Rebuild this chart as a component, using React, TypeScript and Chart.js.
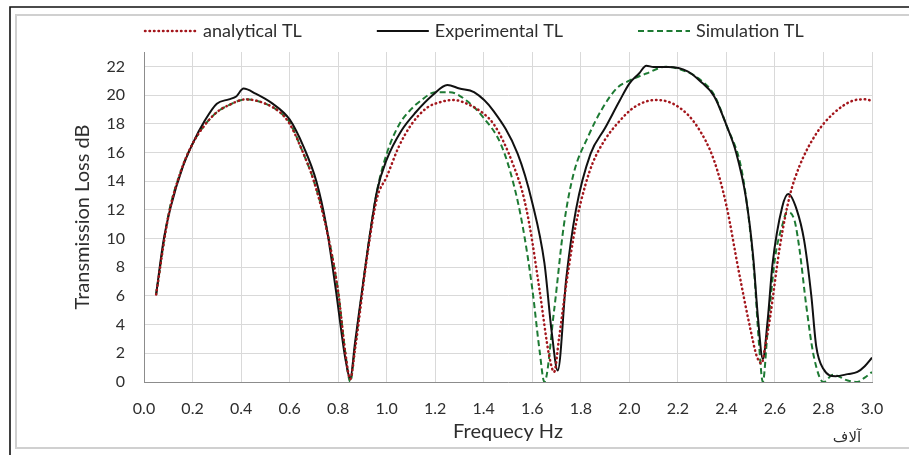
import React, { useEffect, useRef } from 'react';
import { Chart, registerables } from 'chart.js';

Chart.register(...registerables);

// ---- data (frequency in thousands of Hz, TL in dB) ----
const analyticalFreq = [0.05, 0.1, 0.15, 0.2, 0.25, 0.3, 0.35, 0.42, 0.5, 0.56, 0.6, 0.65, 0.7, 0.75, 0.8, 0.83, 0.85, 0.87, 0.92, 0.96, 1.0, 1.05, 1.1, 1.165, 1.22, 1.275, 1.33, 1.4, 1.44, 1.48, 1.52, 1.56, 1.59, 1.63, 1.67, 1.69, 1.71, 1.74, 1.78, 1.82, 1.85, 1.9, 1.95, 2.02, 2.11, 2.2, 2.28, 2.35, 2.4, 2.45, 2.5, 2.525, 2.545, 2.56, 2.58, 2.62, 2.66, 2.7, 2.77, 2.84, 2.92, 2.97, 3.0];
const analyticalTL = [6.1, 11.5, 14.6, 16.6, 17.9, 18.8, 19.3, 19.7, 19.4, 18.8, 18.0, 16.2, 14.0, 10.8, 6.3, 2.0, 0.2, 2.3, 8.8, 12.8, 14.3, 16.4, 17.9, 19.1, 19.5, 19.66, 19.4, 18.7, 18.0, 16.8, 15.2, 13.2, 10.8, 6.4, 1.8, 0.7, 3.0, 6.8, 11.0, 13.8, 15.3, 16.9, 18.0, 19.15, 19.66, 19.2, 17.8, 15.4, 12.3, 7.8, 3.6, 1.8, 1.3, 2.5, 4.5, 9.4, 12.9, 15.0, 17.3, 18.7, 19.6, 19.7, 19.6];

const experimentalFreq = [0.05, 0.08, 0.11, 0.16, 0.2, 0.25, 0.3, 0.35, 0.38, 0.41, 0.46, 0.53, 0.6, 0.66, 0.71, 0.75, 0.79, 0.83, 0.85, 0.87, 0.92, 0.96, 1.0, 1.06, 1.12, 1.19, 1.25, 1.3, 1.36, 1.44, 1.54, 1.6, 1.65, 1.68, 1.705, 1.74, 1.78, 1.84, 1.9, 1.96, 2.0, 2.04, 2.07, 2.1, 2.16, 2.24, 2.29, 2.35, 2.4, 2.44, 2.48, 2.51, 2.53, 2.55, 2.57, 2.59, 2.63, 2.655, 2.69, 2.72, 2.75, 2.77, 2.8, 2.85, 2.9, 2.94, 2.97, 3.0];
const experimentalTL = [6.1, 9.8, 12.2, 15.0, 16.6, 18.2, 19.4, 19.7, 19.9, 20.45, 20.1, 19.4, 18.3, 16.3, 14.0, 11.0, 6.5, 1.6, 0.3, 2.8, 9.0, 13.3, 15.5, 17.5, 18.8, 20.0, 20.7, 20.45, 20.2, 18.9, 15.9, 12.5, 8.3, 3.5, 0.8, 7.2, 12.0, 15.9, 17.7, 19.6, 20.8, 21.5, 22.05, 21.95, 21.95, 21.65, 21.0, 19.9, 17.9, 16.0, 12.9, 8.8, 4.5, 1.6, 4.3, 8.2, 12.2, 13.1, 12.0, 9.9, 6.0, 2.5, 0.9, 0.4, 0.55, 0.7, 1.1, 1.7];

const simulationFreq = [0.05, 0.1, 0.15, 0.2, 0.25, 0.3, 0.35, 0.42, 0.5, 0.56, 0.6, 0.65, 0.7, 0.75, 0.8, 0.83, 0.85, 0.87, 0.92, 0.96, 1.0, 1.05, 1.1, 1.14, 1.2, 1.26, 1.33, 1.4, 1.47, 1.52, 1.56, 1.6, 1.63, 1.65, 1.69, 1.73, 1.77, 1.83, 1.89, 1.95, 2.0, 2.07, 2.15, 2.24, 2.29, 2.35, 2.4, 2.46, 2.49, 2.515, 2.535, 2.55, 2.57, 2.6, 2.63, 2.65, 2.68, 2.7, 2.73, 2.76, 2.8, 2.84, 2.9, 2.94, 2.97, 3.0];
const simulationTL = [6.1, 11.6, 14.6, 16.6, 17.9, 18.8, 19.3, 19.7, 19.4, 18.8, 18.1, 16.2, 14.0, 10.9, 6.3, 2.0, 0.0, 2.5, 9.0, 13.3, 15.9, 17.9, 19.0, 19.6, 20.2, 20.2, 19.6, 18.4, 16.6, 14.0, 10.9, 6.5, 2.2, 0.0, 5.0, 10.9, 14.5, 17.1, 19.1, 20.5, 21.0, 21.5, 21.97, 21.6, 21.1, 20.0, 17.9, 15.0, 11.7, 7.5, 2.5, 0.0, 3.6, 8.6, 10.9, 11.85, 11.3, 9.4, 5.2, 1.8, 0.0, 0.5, 0.1, 0.0, 0.3, 0.7];

const seriesLabels = ['analytical TL', 'Experimental TL', 'Simulation TL'];
const xTickValues = [0, 0.2, 0.4, 0.6, 0.8, 1.0, 1.2, 1.4, 1.6, 1.8, 2.0, 2.2, 2.4, 2.6, 2.8, 3.0];
const yTickValues = [0, 2, 4, 6, 8, 10, 12, 14, 16, 18, 20, 22];
const xTitle = 'Frequecy Hz';
const yTitle = 'Transmission Loss dB';
const unitLabel = 'آلاف';

const FONT = 'Lato, "Noto Sans", sans-serif';
const TEXT = '#2e2e2e';

const toPoints = (xs: number[], ys: number[]) => xs.map((x, i) => ({ x, y: ys[i] }));

const framePlugin = {
  id: 'frame',
  beforeDraw(chart: any) {
    const { ctx, width, height } = chart;
    ctx.save();
    ctx.fillStyle = '#ffffff';
    ctx.fillRect(0, 0, width, height);
    ctx.strokeStyle = '#d0d0d0';
    ctx.lineWidth = 2;
    ctx.beginPath();
    ctx.moveTo(width, 15);
    ctx.lineTo(16, 15);
    ctx.lineTo(16, 448);
    ctx.lineTo(width, 448);
    ctx.stroke();
    ctx.strokeStyle = '#111111';
    ctx.lineWidth = 1.6;
    ctx.beginPath();
    ctx.moveTo(width, 7);
    ctx.lineTo(10, 7);
    ctx.lineTo(10, height);
    ctx.stroke();
    ctx.restore();
  },
};

const legendPlugin = {
  id: 'manualLegend',
  afterDraw(chart: any) {
    const { ctx } = chart;
    ctx.save();
    ctx.font = `18px ${FONT}`;
    ctx.textBaseline = 'middle';
    ctx.fillStyle = TEXT;
    let x = 145;
    const y = 31;
    chart.data.datasets.forEach((ds: any) => {
      ctx.save();
      ctx.strokeStyle = ds.borderColor;
      ctx.lineWidth = ds.borderWidth;
      ctx.lineCap = ds.borderCapStyle || 'butt';
      ctx.setLineDash(ds.borderDash || []);
      ctx.beginPath();
      ctx.moveTo(x, y);
      ctx.lineTo(x + 52, y);
      ctx.stroke();
      ctx.restore();
      const tx = x + 58;
      ctx.fillText(ds.label, tx, y);
      x = tx + ctx.measureText(ds.label).width + 75;
    });
    // display-unit label (thousands)
    ctx.font = `15px "DejaVu Sans", sans-serif`;
    ctx.textAlign = 'center';
    ctx.fillText(unitLabel, 847, 438);
    ctx.restore();
  },
};

export default function App() {
  const ref = useRef<HTMLCanvasElement>(null);

  useEffect(() => {
    document.body.style.margin = '0';
    const canvas = ref.current!;
    const chart = new Chart(canvas, {
      type: 'line',
      data: {
        datasets: [
          {
            label: seriesLabels[0],
            data: toPoints(analyticalFreq, analyticalTL),
            borderColor: '#a3161c',
            borderWidth: 2.5,
            borderDash: [0.5, 4],
            borderCapStyle: 'round',
            pointRadius: 0,
            cubicInterpolationMode: 'monotone',
            fill: false,
          },
          {
            label: seriesLabels[1],
            data: toPoints(experimentalFreq, experimentalTL),
            borderColor: '#111111',
            borderWidth: 2,
            pointRadius: 0,
            cubicInterpolationMode: 'monotone',
            fill: false,
          },
          {
            label: seriesLabels[2],
            data: toPoints(simulationFreq, simulationTL),
            borderColor: '#1d7a33',
            borderWidth: 2,
            borderDash: [6, 3.5],
            pointRadius: 0,
            cubicInterpolationMode: 'monotone',
            fill: false,
          },
        ],
      } as any,
      options: {
        responsive: false,
        animation: false,
        layout: { padding: { left: 0, right: 37, top: 52, bottom: 0 } },
        plugins: { legend: { display: false }, tooltip: { enabled: false } },
        scales: {
          x: {
            type: 'linear',
            min: 0,
            max: 3,
            afterBuildTicks: (s: any) => {
              s.ticks = xTickValues.map((v) => ({ value: v }));
            },
            afterFit: (s: any) => {
              s.height = 73;
            },
            ticks: {
              padding: 17,
              color: TEXT,
              font: { family: FONT, size: 16 },
              maxRotation: 0,
              autoSkip: false,
              callback: (v: any) => Number(v).toFixed(1),
            },
            grid: { color: '#d9d9d9', lineWidth: 1, drawTicks: false },
            border: { color: '#8c8c8c', width: 1 },
            title: {
              display: true,
              text: xTitle,
              color: TEXT,
              font: { family: FONT, size: 20 },
              padding: { top: 0, bottom: 11 },
            },
          },
          y: {
            type: 'linear',
            min: 0,
            max: 23,
            afterBuildTicks: (s: any) => {
              s.ticks = yTickValues.map((v) => ({ value: v }));
            },
            afterFit: (s: any) => {
              s.width = 144;
            },
            ticks: {
              padding: 19,
              color: TEXT,
              font: { family: FONT, size: 16 },
              autoSkip: false,
            },
            grid: { color: '#d9d9d9', lineWidth: 1, drawTicks: false },
            border: { color: '#8c8c8c', width: 1 },
            title: {
              display: true,
              text: yTitle,
              color: TEXT,
              font: { family: FONT, size: 20 },
              padding: { top: 71, bottom: 0 },
            },
          },
        },
      },
      plugins: [framePlugin, legendPlugin],
    } as any);
    return () => chart.destroy();
  }, []);

  return (
    <div style={{ width: 909, height: 455 }}>
      <canvas ref={ref} width={909} height={455} />
    </div>
  );
}
